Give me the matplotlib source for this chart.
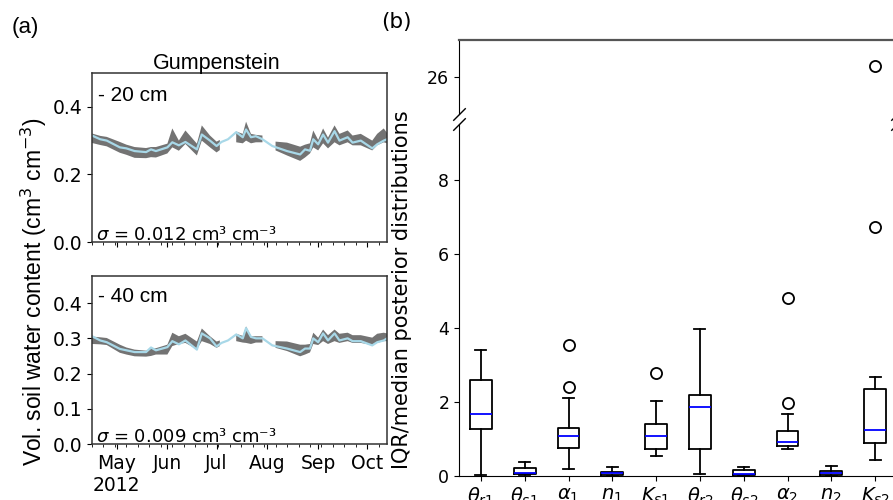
import numpy as np
import matplotlib
matplotlib.use("Agg")
import matplotlib.pyplot as plt
import matplotlib.dates as mdates

nan = np.nan

# ---- panel (a): soil water content time series ----
obs_dates = ['2012-04-16', '2012-04-21', '2012-04-25', '2012-05-03', '2012-05-07', '2012-05-12',
             '2012-05-19', '2012-05-22', '2012-05-25', '2012-06-01', '2012-06-04', '2012-06-08',
             '2012-06-12', '2012-06-19', '2012-06-22', '2012-06-27', '2012-07-01', '2012-07-04',
             '2012-07-08', '2012-07-13', '2012-07-17', '2012-07-19', '2012-07-22', '2012-07-25',
             '2012-07-29', '2012-08-04', '2012-08-13', '2012-08-21', '2012-08-24', '2012-08-27',
             '2012-08-29', '2012-09-01', '2012-09-04', '2012-09-07', '2012-09-11', '2012-09-14',
             '2012-09-19', '2012-09-22', '2012-09-27', '2012-10-04', '2012-10-07', '2012-10-11',
             '2012-10-13']
obs20 = [0.315, 0.304, 0.300, 0.280, 0.277, 0.269, 0.266, 0.274, 0.269, 0.280, 0.295, 0.286,
         0.296, 0.274, 0.318, 0.300, 0.284, 0.296, 0.304, 0.325, 0.310, 0.333, 0.310, 0.313,
         0.304, 0.284, 0.269, 0.259, 0.274, 0.270, 0.304, 0.289, 0.318, 0.294, 0.328, 0.300,
         0.310, 0.294, 0.300, 0.277, 0.289, 0.300, 0.304]
obs40 = [0.306, 0.294, 0.289, 0.270, 0.266, 0.261, 0.261, 0.274, 0.266, 0.275, 0.292, 0.283,
         0.294, 0.268, 0.314, 0.300, 0.277, 0.287, 0.294, 0.311, 0.300, 0.329, 0.304, 0.300,
         0.300, 0.280, 0.271, 0.261, 0.271, 0.271, 0.300, 0.289, 0.314, 0.294, 0.314, 0.294,
         0.300, 0.292, 0.292, 0.280, 0.289, 0.294, 0.300]

band_dates = ['2012-04-16', '2012-04-21', '2012-04-25', '2012-05-03', '2012-05-07', '2012-05-12',
              '2012-05-19', '2012-05-22', '2012-05-25', '2012-06-01', '2012-06-04', '2012-06-08',
              '2012-06-12', '2012-06-19', '2012-06-22', '2012-06-27', '2012-07-01', '2012-07-03',
              '2012-07-08', '2012-07-13', '2012-07-17', '2012-07-19', '2012-07-22', '2012-07-25',
              '2012-07-29', '2012-08-02', '2012-08-06', '2012-08-13', '2012-08-21', '2012-08-24',
              '2012-08-27', '2012-08-29', '2012-09-01', '2012-09-04', '2012-09-07', '2012-09-11',
              '2012-09-14', '2012-09-19', '2012-09-22', '2012-09-27', '2012-10-04', '2012-10-07',
              '2012-10-11', '2012-10-13']
lo20 = [0.293, 0.287, 0.283, 0.264, 0.258, 0.249, 0.248, 0.251, 0.250, 0.262, 0.280, 0.270,
        0.290, 0.256, 0.300, 0.280, 0.265, 0.272, nan, 0.295, 0.292, 0.300, 0.292, 0.295,
        0.295, nan, 0.271, 0.256, 0.240, 0.250, 0.262, 0.280, 0.271, 0.292, 0.277, 0.295,
        0.286, 0.295, 0.286, 0.286, 0.271, 0.286, 0.295, 0.292]
hi20 = [0.321, 0.314, 0.311, 0.296, 0.288, 0.281, 0.278, 0.281, 0.281, 0.291, 0.336, 0.300,
        0.330, 0.291, 0.345, 0.315, 0.297, 0.302, nan, 0.327, 0.320, 0.356, 0.320, 0.317,
        0.315, nan, 0.297, 0.294, 0.282, 0.288, 0.292, 0.330, 0.302, 0.336, 0.309, 0.345,
        0.320, 0.330, 0.315, 0.320, 0.300, 0.320, 0.336, 0.323]
lo40 = [0.284, 0.283, 0.281, 0.259, 0.254, 0.249, 0.248, 0.250, 0.254, 0.254, 0.278, 0.284,
        0.287, 0.269, 0.292, 0.284, 0.273, 0.278, nan, 0.292, 0.288, 0.287, 0.284, 0.288,
        0.288, nan, 0.273, 0.264, 0.249, 0.254, 0.260, 0.284, 0.281, 0.292, 0.284, 0.292,
        0.287, 0.292, 0.287, 0.287, 0.281, 0.287, 0.292, 0.292]
hi40 = [0.305, 0.303, 0.301, 0.282, 0.274, 0.268, 0.265, 0.270, 0.272, 0.282, 0.316, 0.306,
        0.313, 0.291, 0.328, 0.306, 0.291, 0.294, nan, 0.313, 0.307, 0.334, 0.306, 0.306,
        0.306, nan, 0.292, 0.291, 0.282, 0.282, 0.284, 0.316, 0.302, 0.325, 0.309, 0.325,
        0.313, 0.316, 0.309, 0.309, 0.302, 0.313, 0.316, 0.314]

depth_labels = ['- 20 cm', '- 40 cm']
sigma_labels = [r'$\sigma$ = 0.012 cm³ cm⁻³', r'$\sigma$ = 0.009 cm³ cm⁻³']
month_labels = ['May\n2012', 'Jun', 'Jul', 'Aug', 'Sep', 'Oct']

# ---- panel (b): IQR/median of posterior distributions ----
params = [r'$\theta_{r1}$', r'$\theta_{s1}$', r'$\alpha_1$', r'$n_1$', r'$K_{s1}$',
          r'$\theta_{r2}$', r'$\theta_{s2}$', r'$\alpha_2$', r'$n_2$', r'$K_{s2}$']
whislo = [0.02, 0.02, 0.20, 0.00, 0.54, 0.05, 0.00, 0.72, 0.00, 0.43]
q1 = [1.27, 0.05, 0.76, 0.02, 0.73, 0.72, 0.02, 0.80, 0.02, 0.90]
med = [1.67, 0.09, 1.08, 0.07, 1.08, 1.86, 0.05, 0.93, 0.08, 1.24]
q3 = [2.58, 0.21, 1.30, 0.12, 1.39, 2.19, 0.17, 1.21, 0.13, 2.36]
whishi = [3.40, 0.39, 2.11, 0.25, 2.03, 3.98, 0.23, 1.66, 0.26, 2.68]
fliers = [[], [], [3.53, 2.40], [], [2.77], [], [], [4.80, 1.96], [], [6.72, 26.3]]

W, H = 893, 500
fig = plt.figure(figsize=(W / 100, H / 100), dpi=100)

arial = ['Liberation Sans', 'DejaVu Sans']
odates = np.array(obs_dates, dtype='datetime64[D]')
bdates = np.array(band_dates, dtype='datetime64[D]')

ax1 = fig.add_axes([92 / W, 1 - 242 / H, 295 / W, 169 / H])
ax2 = fig.add_axes([92 / W, 1 - 444 / H, 295 / W, 168 / H])

for i, (ax, obs, lo, hi) in enumerate([(ax1, obs20, lo20, hi20), (ax2, obs40, lo40, hi40)]):
    ax.fill_between(bdates, lo, hi, color='#737373', lw=0)
    ax.plot(odates, obs, color='#a8d8e8', lw=1.6)
    ax.set_xlim(np.datetime64('2012-04-16'), np.datetime64('2012-10-13'))
    ax.xaxis.set_major_locator(mdates.MonthLocator(bymonth=[5, 6, 7, 8, 9, 10]))
    ax.xaxis.set_minor_locator(mdates.WeekdayLocator(byweekday=mdates.MO))
    ax.text(0.02, 0.865 if i == 0 else 0.88, depth_labels[i], transform=ax.transAxes,
            fontsize=15, family=arial, va='center')
    ax.text(0.013, 0.012, sigma_labels[i], transform=ax.transAxes, fontsize=13,
            va='baseline')
    ax.tick_params(labelsize=13.5)
    for s in ax.spines.values():
        s.set_color('#333333')
        s.set_linewidth(1.1)

ax1.set_ylim(0, 0.5)
ax1.set_yticks([0.0, 0.2, 0.4])
ax1.set_xticklabels([])
ax2.set_ylim(0, 0.477)
ax2.set_yticks([0.0, 0.1, 0.2, 0.3, 0.4])
ax2.set_xticklabels(month_labels)

fig.text(217 / W, 1 - 63 / H, 'Gumpenstein', ha='center', va='center', fontsize=15.5, family=arial)
fig.text(34 / W, 1 - 292 / H, 'Vol. soil water content (cm$^3$ cm$^{-3}$)', rotation=90,
         ha='center', va='center', fontsize=16.5, family=arial)
fig.text(25 / W, 1 - 27 / H, '(a)', ha='center', va='center', fontsize=16, family=arial)
fig.text(396 / W, 1 - 22 / H, '(b)', ha='center', va='center', fontsize=15.5)

# ---- broken-axis boxplot ----
axt = fig.add_axes([459 / W, 1 - 114 / H, 438 / W, 74 / H])
axb = fig.add_axes([459 / W, 1 - 476 / H, 438 / W, 352 / H])

stats = []
for i in range(len(params)):
    stats.append(dict(whislo=whislo[i], q1=q1[i], med=med[i], q3=q3[i], whishi=whishi[i],
                      fliers=fliers[i], label=params[i]))

for ax in (axt, axb):
    ax.bxp(stats, widths=0.5,
           boxprops=dict(color='black', lw=1.3),
           whiskerprops=dict(color='black', lw=1.3),
           capprops=dict(color='black', lw=1.3),
           medianprops=dict(color='blue', lw=1.3),
           flierprops=dict(marker='o', mfc='none', mec='black', ms=8, mew=1.3))
    ax.set_xlim(0.5, 10.5)
    ax.tick_params(labelsize=12.5)

axt.set_ylim(25, 27)
axt.set_yticks([26])
axt.spines['bottom'].set_visible(False)
axt.tick_params(bottom=False, labelbottom=False)
axt.spines['top'].set_color('#555555')
axt.spines['top'].set_linewidth(1.6)

axb.set_ylim(0, 9.5)
axb.set_yticks([0, 2, 4, 6, 8])
axb.spines['top'].set_visible(False)
axb.tick_params(axis='x', labelsize=14)

kw = dict(marker=[(-1, -1), (1, 1)], markersize=9, linestyle='none', color='k', mec='k',
          mew=1, clip_on=False)
axt.plot([0, 1], [0, 0], transform=axt.transAxes, **kw)
axb.plot([0, 1], [1, 1], transform=axb.transAxes, **kw)

fig.text(402 / W, 1 - 290 / H, 'IQR/median posterior distributions', rotation=90,
         ha='center', va='center', fontsize=15)

fig.savefig('out.png', dpi=100)
